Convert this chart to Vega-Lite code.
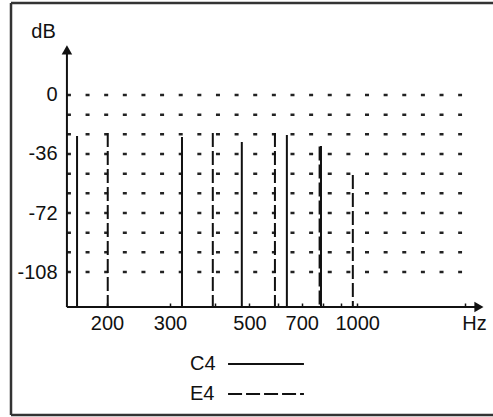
{
  "$schema": "https://vega.github.io/schema/vega-lite/v6.json",
  "width": 482,
  "height": 412,
  "autosize": {"type": "none"},
  "padding": {"left": 11, "top": 3, "right": 0, "bottom": 2},
  "background": "white",
  "config": {
    "view": {"stroke": null},
    "font": "Liberation Sans",
    "legend": {"orient": "none"}
  },
  "datasets": {
    "harmonics": [
      {"note": "C4", "hz": 165, "db": -25},
      {"note": "C4", "hz": 324, "db": -25.6},
      {"note": "C4", "hz": 476, "db": -28.7},
      {"note": "C4", "hz": 636, "db": -24.4},
      {"note": "C4", "hz": 792, "db": -31.1},
      {"note": "E4", "hz": 201, "db": -23.2},
      {"note": "E4", "hz": 395, "db": -23.2},
      {"note": "E4", "hz": 589, "db": -23.2},
      {"note": "E4", "hz": 785, "db": -31.5},
      {"note": "E4", "hz": 972, "db": -48.8}
    ],
    "grid": [
      {"db": 0}, {"db": -12}, {"db": -24}, {"db": -36}, {"db": -48},
      {"db": -60}, {"db": -72}, {"db": -84}, {"db": -96}, {"db": -108}
    ]
  },
  "layer": [
    {
      "data": {"values": [{}]},
      "mark": {"type": "rule", "stroke": "#333", "strokeWidth": 2.5},
      "encoding": {
        "x": {"datum": 107.9, "type": "quantitative"},
        "y": {"datum": -195.2, "type": "quantitative"},
        "y2": {"datum": 56.1}
      }
    },
    {
      "data": {"values": [{}]},
      "mark": {"type": "rule", "stroke": "#333", "strokeWidth": 2.5},
      "encoding": {
        "x": {"datum": 107.9, "type": "quantitative"},
        "x2": {"datum": 2394},
        "y": {"datum": 56.1, "type": "quantitative"}
      }
    },
    {
      "data": {"values": [{}]},
      "mark": {"type": "rule", "stroke": "#333", "strokeWidth": 2.5},
      "encoding": {
        "x": {"datum": 107.9, "type": "quantitative"},
        "x2": {"datum": 2394},
        "y": {"datum": -195.2, "type": "quantitative"}
      }
    },
    {
      "data": {"name": "grid"},
      "mark": {"type": "rule", "stroke": "#222", "strokeWidth": 2.5, "strokeDash": [4, 14.63]},
      "encoding": {
        "x": {"datum": 154.6, "type": "quantitative"},
        "x2": {"datum": 1962},
        "y": {"field": "db", "type": "quantitative"}
      }
    },
    {
      "data": {"name": "harmonics"},
      "mark": {"type": "rule", "stroke": "#111", "strokeWidth": 2},
      "encoding": {
        "x": {
          "field": "hz", "type": "quantitative",
          "scale": {"type": "log", "domain": [107.9, 2394], "nice": false},
          "axis": {
            "orient": "bottom", "offset": -108, "domain": false, "grid": false,
            "values": [200, 300, 400, 500, 600, 700, 800, 900, 1000, 2000],
            "labelExpr": "indexof([200,300,500,700,1000], datum.value) >= 0 ? datum.value + '' : ''",
            "labelOverlap": false, "labelFlush": false,
            "tickSize": -4, "tickColor": "#111", "tickWidth": 1.5,
            "labelPadding": 10, "labelFontSize": 20, "labelColor": "#111",
            "title": "Hz", "titleAngle": 0, "titleX": 463, "titleY": 16,
            "titleFontSize": 20, "titleFontWeight": "normal", "titleColor": "#111",
            "titleAlign": "center", "titleBaseline": "middle"
          }
        },
        "y": {
          "field": "db", "type": "quantitative",
          "scale": {"domain": [-195.2, 56.1], "nice": false, "zero": false},
          "axis": {
            "orient": "left", "offset": -56, "domain": false, "grid": false,
            "ticks": false, "tickSize": 0,
            "values": [0, -36, -72, -108],
            "labelExpr": "datum.value + ''",
            "labelPadding": 10, "labelFontSize": 20, "labelColor": "#111",
            "title": "dB", "titleAngle": 0, "titleX": -24, "titleY": 28,
            "titleFontSize": 20, "titleFontWeight": "normal", "titleColor": "#111",
            "titleAlign": "center", "titleBaseline": "middle"
          }
        },
        "y2": {"datum": -129.35},
        "strokeDash": {
          "field": "note", "type": "nominal",
          "scale": {"domain": ["C4", "E4"], "range": [[1, 0], [14, 4]]},
          "legend": {
            "orient": "none", "legendX": 214, "legendY": 351,
            "direction": "vertical", "title": null, "padding": 0,
            "symbolType": "M-8,0H8", "symbolSize": 90, "symbolStrokeWidth": 2,
            "symbolStrokeColor": "#111", "symbolFillColor": "transparent",
            "symbolOffset": 31, "rowPadding": 10,
            "labelOffset": -86, "labelFontSize": 20,
            "labelColor": "#111"
          }
        }
      }
    },
    {
      "data": {"values": [{}]},
      "mark": {"type": "rule", "stroke": "#111", "strokeWidth": 2},
      "encoding": {
        "x": {"datum": 154.6, "type": "quantitative"},
        "y": {"datum": -129.35, "type": "quantitative"},
        "y2": {"datum": 25}
      }
    },
    {
      "data": {"values": [{}]},
      "mark": {"type": "rule", "stroke": "#111", "strokeWidth": 2},
      "encoding": {
        "x": {"datum": 154.6, "type": "quantitative"},
        "x2": {"datum": 2150},
        "y": {"datum": -129.35, "type": "quantitative"}
      }
    },
    {
      "data": {"values": [{}]},
      "mark": {"type": "point", "shape": "triangle-up", "filled": true, "color": "#111", "size": 110, "opacity": 1},
      "encoding": {
        "x": {"datum": 154.6, "type": "quantitative"},
        "y": {"datum": 27.5, "type": "quantitative"}
      }
    },
    {
      "data": {"values": [{}]},
      "mark": {"type": "point", "shape": "triangle-right", "filled": true, "color": "#111", "size": 110, "opacity": 1},
      "encoding": {
        "x": {"datum": 2187, "type": "quantitative"},
        "y": {"datum": -129.35, "type": "quantitative"}
      }
    }
  ]
}
